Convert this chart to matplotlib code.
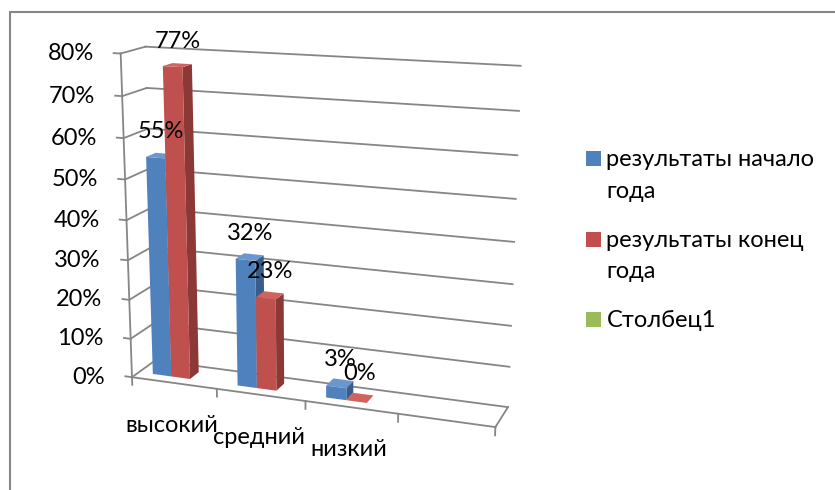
import numpy as np
import matplotlib
matplotlib.use("Agg")
import matplotlib.pyplot as plt
from matplotlib.patches import Rectangle
from mpl_toolkits.mplot3d.art3d import Poly3DCollection

plt.rcParams['font.family'] = ['Lato', 'DejaVu Sans']

categories = ['высокий', 'средний', 'низкий', '']
series_names = ['результаты начало\nгода', 'результаты конец\nгода', 'Столбец1']
start_of_year = [0.55, 0.32, 0.03]
end_of_year = [0.77, 0.23, 0.00]
column1 = []
y_ticks = [0.0, 0.1, 0.2, 0.3, 0.4, 0.5, 0.6, 0.7, 0.8]
y_tick_labels = ['0%', '10%', '20%', '30%', '40%', '50%', '60%', '70%', '80%']
start_labels = ['55%', '32%', '3%']
end_labels = ['77%', '23%', '0%']

W, H, DPI = 835, 490, 100
FS = 17
fig = plt.figure(figsize=(W / DPI, H / DPI), dpi=DPI)
ncat = len(categories)
zmax = y_ticks[-1]

side = 400
ax = fig.add_axes([0.1, 0.1, side / W, side / H], projection='3d', computed_zorder=False)
for setter, lim in ((ax.set_xlim, (0, ncat)), (ax.set_ylim, (0, 1)), (ax.set_zlim, (0, zmax))):
    try:
        setter(*lim, view_margin=0)
    except TypeError:
        setter(*lim)
ax.set_axis_off()

# camera (Excel-like 3D perspective view)
ax.view_init(14.888, -69.785)
ax.set_proj_type('persp', focal_length=0.5193)
ax.set_box_aspect((1, 0.1393, 0.8750))

# place the plot box: wall corners -> pixel positions in the image
anchor3d = np.array([(0, 0, 0), (0, 0, zmax), (0, 1, zmax), (ncat, 1, zmax),
                     (ncat, 1, 0), (ncat, 0, 0), (0, 1, 0)], float)
anchor_px = np.array([[131.7, 377.3], [121, 53], [145, 47], [521, 66],
                      [508, 407], [495, 427], [155.5, 360.6]])


def project(pts):
    M = ax.get_proj()
    P = np.column_stack([pts, np.ones(len(pts))])
    V = P @ M.T
    return V[:, 0] / V[:, 3], V[:, 1] / V[:, 3]


xs_a, ys_a = project(anchor3d)
n = len(xs_a)
A = np.zeros((2 * n, 3)); bvec = np.zeros(2 * n)
A[0::2, 0] = 1; A[0::2, 2] = xs_a; bvec[0::2] = anchor_px[:, 0]
A[1::2, 1] = 1; A[1::2, 2] = -ys_a; bvec[1::2] = anchor_px[:, 1]
Tx, Ty, K = np.linalg.lstsq(A, bvec, rcond=None)[0]

fig.canvas.draw()
P0 = ax.transData.transform((0, 0))
k = ax.transData.transform((1, 0))[0] - P0[0]
pos = ax.get_position()
o = np.array([pos.x0 * W, pos.y0 * H])
Wa = pos.width * W
T = np.array([Tx, H - Ty])
Wn = Wa * K / k
on = T - (P0 - o) * K / k
ax.set_position([on[0] / W, on[1] / H, Wn / W, Wn / H])

# ---- walls, floor, axis ----
grid_c = '#868686'
lw = 1.3
for v in y_ticks:
    ax.plot([0, ncat], [1, 1], [v, v], color=grid_c, lw=lw, zorder=1)
    ax.plot([0, 0], [0, 1], [v, v], color=grid_c, lw=lw, zorder=1)
    ax.plot([0, -0.08], [0, 0], [v, v], color=grid_c, lw=lw, zorder=1)
ax.plot([0, ncat], [0, 0], [0, 0], color=grid_c, lw=lw, zorder=1)
ax.plot([ncat, ncat], [0, 1], [0, 0], color=grid_c, lw=lw, zorder=1)
ax.plot([0, 0], [0, 0], [0, zmax], color=grid_c, lw=lw, zorder=1)
for i in range(ncat + 1):
    ax.plot([i, i], [0, 0], [0, -0.02], color=grid_c, lw=lw, zorder=1)

# ---- bars ----
gap = 1.5
nser = 3
bw = 1.0 / (nser + gap)
yd0, yd1 = 0.3, 0.7
colors = [('#4F81BD', '#385D8A', '#6B97CE'), ('#C0504D', '#8C3836', '#D0625F'),
          ('#9BBB59', '#71893F', '#AFCB73')]
series = [start_of_year, end_of_year, column1]
labels = [start_labels, end_labels, []]

zo = 2
for ci in range(ncat):
    for si, vals in enumerate(series):
        if ci >= len(vals):
            continue
        h = vals[ci]
        a = ci + bw * (gap / 2 + si); b = a + bw
        front = [(a, yd0, 0), (b, yd0, 0), (b, yd0, h), (a, yd0, h)]
        right = [(b, yd0, 0), (b, yd1, 0), (b, yd1, h), (b, yd0, h)]
        top = [(a, yd0, h), (b, yd0, h), (b, yd1, h), (a, yd1, h)]
        fc, sc, tc = colors[si]
        pc = Poly3DCollection([front, right, top], facecolors=[fc, sc, tc], edgecolors='none')
        pc.set_zorder(zo); zo += 1
        ax.add_collection3d(pc)

for ci in range(ncat):
    for si, vals in enumerate(series):
        if ci >= len(vals):
            continue
        xc = ci + bw * (gap / 2 + si + 0.5)
        xs, ys = project(np.array([(xc, (yd0 + yd1) / 2, vals[ci])]))
        ax.annotate(labels[si][ci], (xs[0], ys[0]), xytext=(0, 24), textcoords='offset pixels',
                    ha='center', va='center', fontsize=FS, annotation_clip=False, zorder=100)

for v, t in zip(y_ticks, y_tick_labels):
    xs, ys = project(np.array([(0, 0, v)]))
    ax.annotate(t, (xs[0], ys[0]), xytext=(-27, 0), textcoords='offset pixels',
                ha='right', va='center', fontsize=FS, annotation_clip=False)

for ci, name in enumerate(categories):
    xs, ys = project(np.array([(ci + 0.5, 0, 0)]))
    ax.annotate(name, (xs[0], ys[0]), xytext=(-2, -49), textcoords='offset pixels',
                ha='center', va='baseline', fontsize=FS, annotation_clip=False)

# ---- legend ----
leg_colors = ['#4F81BD', '#C0504D', '#9BBB59']
baselines = [[165.7, 198.3], [246.7, 278.3], [326.7]]
for name, col, bls in zip(series_names, leg_colors, baselines):
    y0 = bls[0]
    fig.add_artist(Rectangle((586 / W, 1 - y0 / H), 14.7 / W, 14.7 / H,
                             transform=fig.transFigure, facecolor=col, edgecolor='none'))
    for line, bl in zip(name.split('\n'), bls):
        fig.text(606.5 / W, 1 - bl / H, line, ha='left', va='baseline', fontsize=FS)

fig.add_artist(Rectangle((9.5 / W, -0.1), 1.2, 1.1 - 12 / H, transform=fig.transFigure,
                         facecolor='none', edgecolor=grid_c, lw=1.5))

fig.savefig('out.png', dpi=DPI)
